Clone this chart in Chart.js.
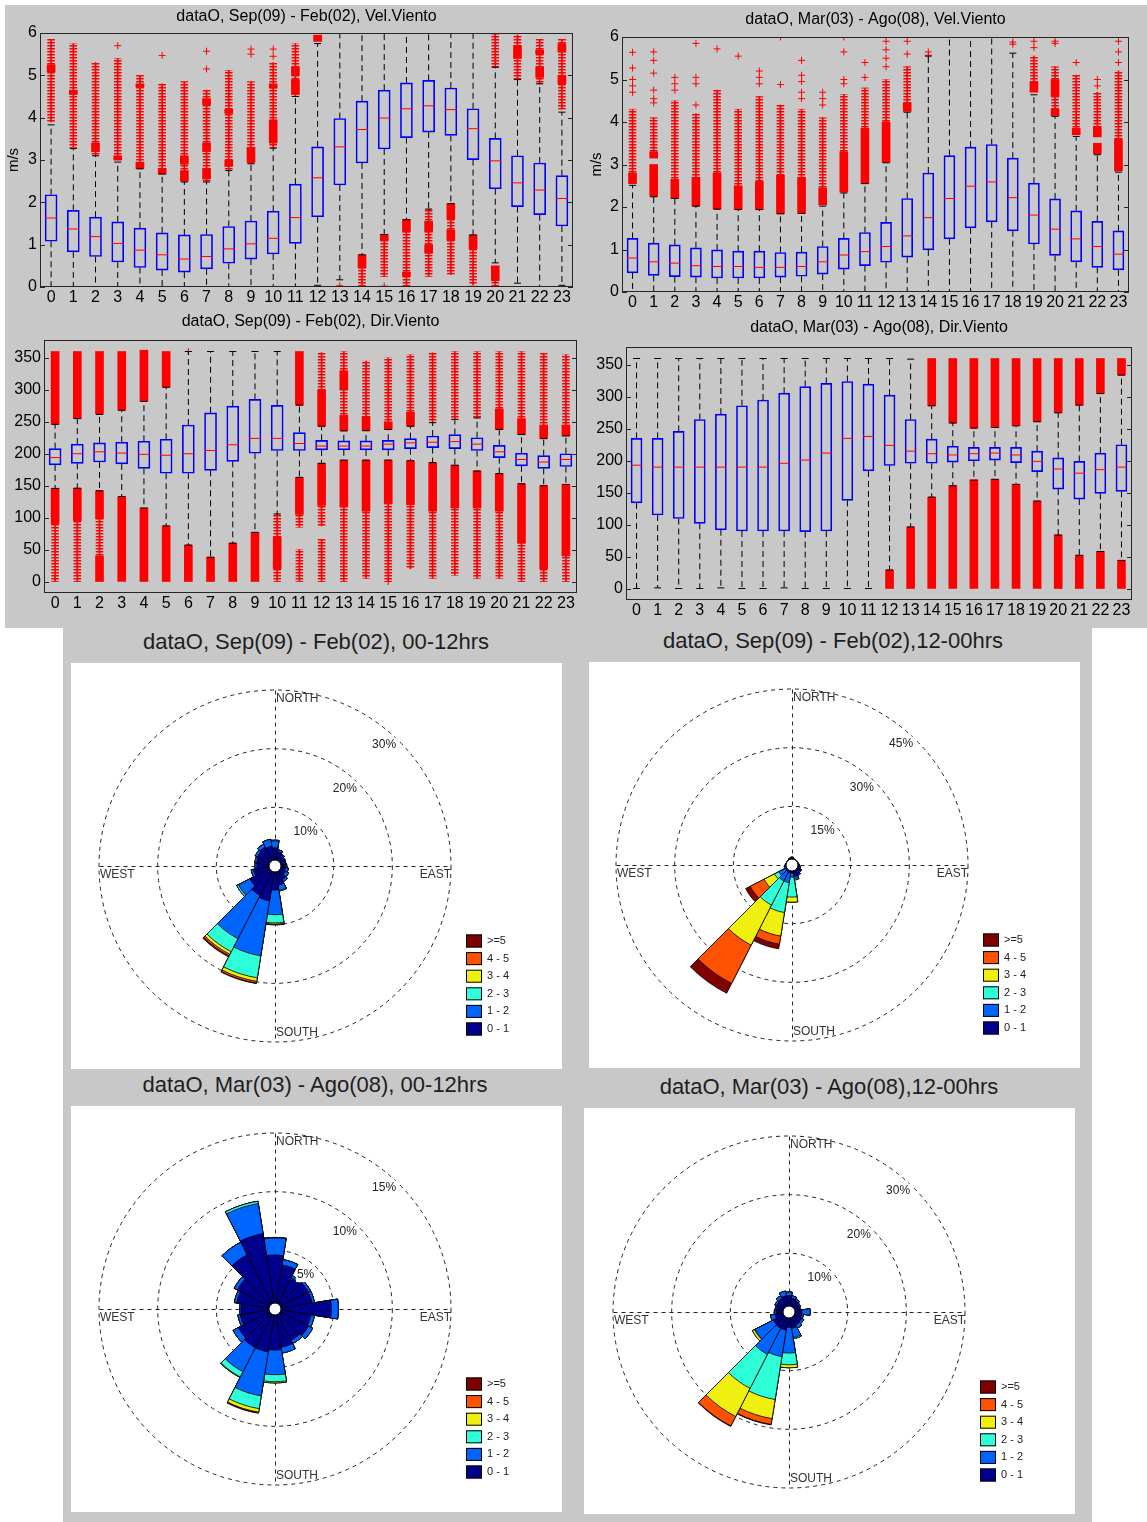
<!DOCTYPE html>
<html>
<head>
<meta charset="utf-8">
<script src="https://cdn.jsdelivr.net/npm/chart.js@4.4.0/dist/chart.umd.min.js"></script>
<style>
  body { margin: 0; background: #fff; width: 1147px; height: 1522px; position: relative; overflow: hidden;
         font-family: "Liberation Sans", Arial, sans-serif; }
  .bg { position: absolute; background: #c8c8c8; }
  .sheet { position: absolute; background: #fff; }
  canvas { position: absolute; }
  .ttl { position: absolute; font-size: 22px; line-height: 24px; color: #1e1e1e; white-space: nowrap; transform: translateX(-50%); }
</style>
</head>
<body>
<div class="bg" style="left:5px;top:5px;width:1142px;height:623px"></div>
<div class="bg" style="left:63px;top:628px;width:1029px;height:894px"></div>

<canvas id="velSep" width="585" height="305" style="left:0;top:0"></canvas>
<canvas id="velMar" width="562" height="310" style="left:580px;top:0"></canvas>
<canvas id="dirSep" width="590" height="306" style="left:0;top:305px"></canvas>
<canvas id="dirMar" width="565" height="308" style="left:580px;top:310px"></canvas>

<div class="ttl" style="left:316px;top:630px">dataO, Sep(09) - Feb(02), 00-12hrs</div>
<div class="ttl" style="left:833px;top:629px">dataO, Sep(09) - Feb(02),12-00hrs</div>
<div class="ttl" style="left:315px;top:1073px">dataO, Mar(03) - Ago(08), 00-12hrs</div>
<div class="ttl" style="left:829px;top:1075px">dataO, Mar(03) - Ago(08),12-00hrs</div>

<div class="sheet" style="left:71px;top:663px;width:491px;height:406px"></div>
<div class="sheet" style="left:589px;top:662px;width:491px;height:406px"></div>
<div class="sheet" style="left:71px;top:1106px;width:491px;height:406px"></div>
<div class="sheet" style="left:584px;top:1108px;width:491px;height:406px"></div>
<canvas id="roseSepAm" width="491" height="406" style="left:71px;top:663px"></canvas>
<canvas id="roseSepPm" width="491" height="406" style="left:589px;top:662px"></canvas>
<canvas id="roseMarAm" width="491" height="406" style="left:71px;top:1106px"></canvas>
<canvas id="roseMarPm" width="491" height="406" style="left:584px;top:1108px"></canvas>

<script>
// ---- hourly boxplots ----
const hours = [0,1,2,3,4,5,6,7,8,9,10,11,12,13,14,15,16,17,18,19,20,21,22,23];
const velTicks = [0,1,2,3,4,5,6];
const dirTicks = [0,50,100,150,200,250,300,350];

// wind speed, Sep-Feb
const velSepQ1  = [1.08,0.83,0.72,0.59,0.46,0.40,0.35,0.43,0.56,0.66,0.78,1.03,1.66,2.41,2.93,3.26,3.53,3.66,3.58,3.01,2.32,1.90,1.71,1.44];
const velSepMed = [1.63,1.37,1.19,1.03,0.87,0.76,0.66,0.72,0.90,1.02,1.15,1.64,2.58,3.31,3.72,3.99,4.21,4.28,4.19,3.74,2.98,2.46,2.29,2.09];
const velSepQ3  = [2.18,1.81,1.65,1.54,1.39,1.28,1.23,1.24,1.43,1.56,1.79,2.43,3.31,3.98,4.39,4.65,4.82,4.88,4.70,4.21,3.51,3.10,2.93,2.63];
const velSepHi  = [3.83,3.27,3.10,2.95,2.79,2.67,2.48,2.48,2.75,2.91,3.28,4.50,5.75,6.3,6.3,6.3,6.3,6.3,6.3,6.0,5.19,4.90,4.80,4.13];
const velSepLo  = [0,0,0,0,0,0,0,0,0,0,0,0,0.04,0.17,0.76,1.24,1.59,1.84,1.97,1.23,0.57,0.09,0,0.04];
const velSepDense = [[[5.08,5.25]],[[4.55,4.65]],[[3.2,3.4]],[[3.0,3.1]],[[2.8,2.95],[4.72,4.8]],[[2.67,2.8]],
  [[2.5,2.75],[2.9,3.1]],[[2.55,2.8],[3.2,3.4],[4.3,4.45]],[[2.85,3.0],[4.1,4.2]],[[2.95,3.3]],[[3.4,3.95],[4.7,4.8]],
  [[4.55,4.9],[5.0,5.2]],[[5.8,5.95]],[],[[0.45,0.76]],[[1.1,1.24]],[[1.3,1.6],[0.25,0.35]],[[1.3,1.55],[0.8,1.0]],
  [[1.6,1.97],[1.1,1.35]],[[0.9,1.23]],[[0.15,0.5]],[[5.4,5.7]],[[4.95,5.2],[5.5,5.6]],[[4.8,5.0],[5.55,5.75]]];
const velSepSparse = [[[3.9,5.85]],[[3.3,5.75]],[[3.1,5.3]],[[3.0,5.4]],[[2.8,5.0]],[[2.67,4.8]],[[2.5,4.85]],[[2.5,4.65]],
  [[2.75,5.12]],[[2.92,4.85]],[[3.3,5.3]],[[4.5,5.75]],[],[],[[0.0,0.45]],[[0.25,1.1]],[[0.0,1.3]],[[0.25,1.84]],
  [[0.3,1.6]],[[0.05,0.9]],[[5.2,6.0],[0.0,0.15]],[[4.9,5.95]],[[4.8,5.85]],[[4.2,5.85]]];
const velSepOut = [[],[],[],[5.7],[],[5.47],[],[5.15,5.57],[],[5.5,5.62],[5.45,5.62],[],[],[0.03],[],[0.02],[],[],[],[],[],[],[],[]];

// wind speed, Mar-Aug
const velMarQ1  = [0.45,0.39,0.36,0.35,0.33,0.33,0.33,0.35,0.37,0.42,0.54,0.62,0.70,0.82,0.99,1.25,1.51,1.65,1.44,1.13,0.86,0.71,0.58,0.52];
const velMarMed = [0.80,0.71,0.68,0.62,0.60,0.60,0.58,0.58,0.60,0.71,0.87,0.95,1.07,1.32,1.75,2.20,2.49,2.59,2.22,1.81,1.48,1.25,1.07,0.89];
const velMarQ3  = [1.26,1.15,1.11,1.04,0.99,0.96,0.96,0.93,0.94,1.07,1.26,1.40,1.64,2.20,2.80,3.21,3.41,3.47,3.15,2.56,2.19,1.91,1.66,1.44];
const velMarHi  = [2.51,2.24,2.20,2.02,1.95,1.94,1.94,1.84,1.85,2.02,2.33,2.55,3.04,4.23,5.55,6.3,6.3,6.3,5.62,4.64,4.13,3.66,3.23,2.82];
const velMarLo  = [0,0,0,0,0,0,0,0,0,0,0,0,0,0,0,0,0,0,0,0,0,0,0,0];
const velMarDense = [[[2.55,2.8]],[[2.25,3.0],[3.15,3.3]],[[2.2,2.65]],[[2.02,2.7]],[[1.95,2.8]],[[1.94,2.5]],[[1.94,2.6]],
  [[1.84,2.75]],[[1.85,2.7]],[[2.05,2.45]],[[2.35,3.3]],[[2.55,3.85]],[[3.05,4.0]],[[4.25,4.45]],[],[],[],[],[],
  [[4.7,4.95]],[[4.15,4.3],[4.6,5.0]],[[3.7,3.85]],[[3.25,3.5],[3.65,3.9]],[[2.85,3.6]]];
const velMarSparse = [[[2.8,4.3]],[[3.3,4.1]],[[2.65,4.5]],[[2.7,4.2]],[[2.8,4.75]],[[2.5,4.3]],[[2.6,4.6]],[[2.75,4.4]],
  [[2.7,4.3]],[[2.45,4.1]],[[3.3,4.65]],[[3.85,4.8]],[[4.0,5.0]],[[4.45,5.3]],[],[],[],[],[],[[4.95,5.55]],
  [[4.3,4.6],[5.0,5.3]],[[3.85,5.1]],[[3.9,4.7]],[[3.6,5.2]]];
const velMarOut = [[4.7,4.85,5.0,5.27,5.64],[4.45,4.55,4.75,5.15,5.45,5.65],[4.75,4.9,5.05],[4.4,4.9,5.05,5.85],[5.72],[5.55],
  [4.9,5.05,5.2],[4.88,6.0],[4.55,4.7,4.95,5.1,5.45],[4.4,4.55,4.7],[4.9,5.0,5.65,6.0],[5.05,5.4],[5.3,5.5,5.7,5.9],
  [5.6,5.9],[5.57,5.65],[],[],[],[5.83,5.88],[5.75,5.9],[5.85,5.9],[5.4],[4.85,5.0],[5.4,5.65,5.9]];

// wind direction, Sep-Feb
const dirSepQ1  = [182.5,185,187,184,177,169.5,169.5,174,188,200.7,205,205,206,206,206,206,208,209.6,208,205,194,181,177,180];
const dirSepMed = [194,200,203,201,199,197.6,200,205,214,224,224,216,212,212,212,215,217,218,219,215,203,191,187,191];
const dirSepQ3  = [208,215,217,218,219.5,222.6,245,264,274.6,285,275.6,233,221,220,220,221,223.6,227.8,230,225,213,200.7,197,200];
const dirSepHi  = [246,255,261.5,268,282,304,360,360,360,360,360,276,243,235.6,236,238,243,248.6,253.8,256,238,230,223.6,227.8];
const dirSepLo  = [145.6,146,142,133,115,87,57,38,60,77,105.6,163,185,190,190,190,189,186,182,173,169,153,150,152];
const dirSepDense = [[[246,360],[90,146]],[[255,360],[95,146]],[[262,360],[98,142],[0,40]],[[268,360],[0,133]],
  [[282,362],[0,115]],[[304,360],[0,87]],[[0,57]],[[0,38]],[[0,60]],[[0,77]],[[20,70]],[[276,360],[105,163]],
  [[243,300],[119,185]],[[236,260],[300,330],[117,190]],[[236,258],[110,190]],[[238,250],[122,190]],
  [[243,265],[120,189]],[[110,186]],[[115,182]],[[115,173]],[[238,270],[110,169]],[[230,255],[60,153]],
  [[224,245],[20,150]],[[228,245],[40,152]]];
const dirSepSparse = [[[0,90]],[[0,95]],[[40,98]],[],[],[],[],[],[],[],[[0,20],[70,106]],[[85,105],[0,50]],
  [[300,358],[87,119],[0,66]],[[260,300],[330,360],[0,117]],[[258,345],[5,110]],[[250,350],[0,122]],
  [[265,355],[20,120]],[[249,358],[5,110]],[[254,360],[10,115]],[[256,360],[5,115]],[[270,360],[5,110]],
  [[255,360],[0,60]],[[245,357],[0,20]],[[245,355],[0,40]]];
const dirSepOut = [[],[],[],[],[],[],[360],[],[],[],[],[],[],[],[],[0],[],[],[],[],[],[],[],[]];

// wind direction, Mar-Aug
const dirMarQ1  = [134,115,109.5,102,92,90,90,90,89,90,138,184,192.5,196,196,197.7,200,201,197,183,155.5,140,149,152];
const dirMarMed = [193,190,190,190,190,190,190,196,201,212,235,238,224,215,211,209,211,212,209,199,187,180.5,186,190];
const dirMarQ3  = [235,235,246,264.5,273,286,295,305.7,316,321,324,320,302.6,264.5,233.7,222.7,221,221,221,215,204.5,199,212,225];
const dirMarHi  = [360,360,360,360,360,360,360,360,360,360,360,360,360,359,286,259,251,252,254.6,261,275,287,305,334];
const dirMarLo  = [0,1,0,0,1,0,0,1,0,0,0,0,29,96.5,143,160.7,169.5,171,163,137,83.5,52,58,44];
const dirMarDense = [[],[],[],[],[],[],[],[],[],[],[],[],[[0,29]],[[0,96]],[[286,360],[0,143]],[[259,360],[0,161]],
  [[251,360],[0,170]],[[252,360],[0,171]],[[255,360],[0,163]],[[261,360],[0,137]],[[275,360],[0,84]],
  [[287,360],[0,52]],[[305,360],[0,58]],[[334,360],[0,44]]];
const dirMarSparse = hours.map(() => []);
const dirMarOut = hours.map(() => []);

// ---- wind roses ----
const sectors = [0,18,36,54,72,90,108,126,144,162,180,198,216,234,252,270,288,306,324,342];
const binLabels = ['0 - 1','1 - 2','2 - 3','3 - 4','4 - 5','>=5'];
const binColors = ['#00008c','#0064ff','#2effd8','#f0f010','#ff5200','#800000'];

// frequency (%) per speed bin, one value per sector
const sepAmCalm   = [3.1,2.5,2.1,1.9,1.8,1.8,1.8,2.0,2.6,3.3,4.1,6.0,5.6,4.8,3.7,3.1,3.2,3.4,3.6,3.4];
const sepAmLight  = [1.2,0.3,0.2,0.1,0.1,0.2,0.5,0.6,0.4,0.9,4.2,9.5,8.3,2.2,0.4,0.3,0.3,0.4,0.6,1.2];
const sepAmMid    = [0.1,0,0,0,0,0,0,0,0,0.1,1.4,3.8,2.5,0.3,0,0,0,0,0,0];
const sepAmFresh  = [0,0,0,0,0,0,0,0,0,0,0.2,0.6,0.5,0,0,0,0,0,0,0];
const sepAmStrong = [0,0,0,0,0,0,0,0,0,0,0.1,0.3,0.3,0,0,0,0,0,0,0];
const sepAmGale   = [0,0,0,0,0,0,0,0,0,0,0.05,0.1,0.2,0,0,0,0,0,0,0];

const sepPmCalm   = [1.8,1.6,1.5,1.5,1.6,1.8,2.0,2.4,2.8,3.0,2.0,2.0,2.0,1.8,1.5,1.5,1.5,1.5,1.6,1.7];
const sepPmLight  = [0.2,0,0,0,0,0,0.2,0.3,0.3,0.6,1.1,2.6,2.6,2.0,0.5,0.2,0,0,0,0.1];
const sepPmMid    = [0,0,0,0,0,0,0,0,0,0.3,5.1,7.7,6.9,1.2,0,0,0,0,0,0];
const sepPmFresh  = [0,0,0,0,0,0,0,0,0,0,1.3,6.1,11.5,3.0,0,0,0,0,0,0];
const sepPmStrong = [0,0,0,0,0,0,0,0,0,0,0,2.1,11.0,4.0,0,0,0,0,0,0];
const sepPmGale   = [0,0,0,0,0,0,0,0,0,0,0,1.2,2.8,1.3,0,0,0,0,0,0];

const marAmCalm   = [4.6,3.8,3.0,3.2,3.2,4.8,3.1,3.2,3.0,3.3,3.5,3.7,3.7,3.5,3.0,2.9,3.3,3.6,5.2,6.5];
const marAmLight  = [1.45,0.46,0.2,0.2,0.2,0.6,0.3,0.4,0.3,0.5,2.1,3.8,2.3,0.5,0.2,0.1,0.2,0.3,1.2,2.6];
const marAmMid    = [0.05,0,0,0,0,0,0,0,0,0,0.6,1.1,0.5,0,0,0,0,0,0,0.2];
const marAmFresh  = [0,0,0,0,0,0,0,0,0,0,0.1,0.3,0.05,0,0,0,0,0,0,0];
const marAmStrong = [0,0,0,0,0,0,0,0,0,0,0,0.05,0,0,0,0,0,0,0,0];
const marAmGale   = [0,0,0,0,0,0,0,0,0,0,0,0.05,0,0,0,0,0,0,0,0];

const marPmCalm   = [2.8,2.4,2.2,2.0,2.0,2.2,2.2,2.4,2.5,2.8,2.6,3.1,3.1,3.0,2.4,2.2,2.2,2.4,2.6,2.8];
const marPmLight  = [0.6,0.4,0.3,0.2,0,1.4,0.3,0.4,0.6,1.6,4.4,4.6,5.0,3.5,0.8,0.3,0.2,0.3,0.5,0.8];
const marPmMid    = [0,0,0,0,0,0,0,0,0,0.2,2.0,7.4,6.5,0.1,0,0,0,0,0,0];
const marPmFresh  = [0,0,0,0,0,0,0,0,0,0,0.5,3.3,5.4,0.4,0,0,0,0,0,0];
const marPmStrong = [0,0,0,0,0,0,0,0,0,0,0,1.0,1.8,0,0,0,0,0,0,0];
const marPmGale   = [0,0,0,0,0,0,0,0,0,0,0,0.1,0.1,0,0,0,0,0,0,0];

const FONT = '"Liberation Sans", Arial, sans-serif';
Chart.defaults.font.family = FONT;
Chart.defaults.color = '#000';

// horizontal stripes: stacked "+" markers read as a ladder
function ladder() {
  const c = document.createElement('canvas');
  c.width = 3; c.height = 3;
  const g = c.getContext('2d');
  g.fillStyle = '#ff0000'; g.fillRect(0, 0, 3, 1);
  g.fillStyle = 'rgba(255,0,0,0.5)'; g.fillRect(0, 1, 3, 1);
  return g.createPattern(c, 'repeat');
}

function flat(perHour) {
  const out = [];
  perHour.forEach((list, i) => list.forEach(v => out.push({x: hours[i], y: v})));
  return out;
}

// axes frame with inward ticks on both sides
const axesFrame = {
  id: 'axesFrame',
  afterDraw(chart) {
    const {ctx, chartArea: a, scales: {y}} = chart;
    ctx.save();
    ctx.strokeStyle = '#262626';
    ctx.lineWidth = 1;
    ctx.strokeRect(Math.round(a.left) + 0.5, Math.round(a.top) + 0.5, Math.round(a.width) - 1, Math.round(a.height) - 1);
    ctx.beginPath();
    y.ticks.forEach(t => {
      const py = Math.round(y.getPixelForValue(t.value)) + 0.5;
      ctx.moveTo(a.left, py); ctx.lineTo(a.left + 5, py);
      ctx.moveTo(a.right - 5, py); ctx.lineTo(a.right, py);
    });
    ctx.stroke();
    ctx.restore();
  }
};

function boxPanel(id, p) {
  const whisk = [], caps = [];
  hours.forEach((h, i) => {
    whisk.push({x: h, y: p.q3[i]}, {x: h, y: p.hi[i]}, {x: h, y: null});
    whisk.push({x: h, y: p.q1[i]}, {x: h, y: p.lo[i]}, {x: h, y: null});
    caps.push({x: h, y: p.hi[i]}, {x: h, y: p.lo[i]});
  });
  const sparse = flat(p.sparse);
  new Chart(document.getElementById(id), {
    type: 'bar',
    data: {
      datasets: [
        { type: 'scatter', data: hours.map((h, i) => ({x: h, y: p.med[i]})), pointStyle: 'line',
          pointRadius: p.box / 2, borderColor: '#ff0000', borderWidth: 1 },
        { type: 'bar', data: hours.map((h, i) => ({x: h, y: [p.q1[i], p.q3[i]]})), grouped: false,
          barThickness: p.box, backgroundColor: 'rgba(255,255,255,0)', borderColor: '#0000ff',
          borderWidth: 1, borderSkipped: false },
        { type: 'scatter', data: caps, pointStyle: 'line', pointRadius: 3.5, borderColor: '#000', borderWidth: 1 },
        { type: 'line', data: whisk, borderColor: '#000', borderWidth: 1, borderDash: [6, 4],
          pointRadius: 0, spanGaps: false, tension: 0 },
        { type: 'scatter', data: flat(p.out), pointStyle: 'cross', pointRadius: 3.5,
          borderColor: '#ff0000', borderWidth: 1 },
        { type: 'bar', data: sparse, grouped: false, barThickness: 1, backgroundColor: '#ff0000', borderWidth: 0 },
        { type: 'bar', data: sparse, grouped: false, barThickness: 7, backgroundColor: ladder(), borderWidth: 0 },
        { type: 'bar', data: flat(p.dense), grouped: false, barThickness: 8, backgroundColor: '#ff0000', borderWidth: 0 }
      ]
    },
    options: {
      responsive: false,
      animation: false,
      layout: { padding: { left: 0, right: p.padRight, top: 0, bottom: 0 } },
      plugins: {
        legend: { display: false },
        tooltip: { enabled: false },
        title: { display: true, text: p.title, fullSize: false, color: '#000',
                 font: { size: 16, weight: 'normal', lineHeight: 1.125 }, padding: p.titlePad }
      },
      scales: {
        x: {
          type: 'linear', min: -0.5, max: 23.5, offset: false,
          afterBuildTicks: s => { s.ticks = hours.map(v => ({value: v})); },
          afterFit: s => { s.height = 18; },
          grid: { display: false, drawTicks: false },
          border: { display: false },
          ticks: { font: { size: 16 }, color: '#000', padding: 1, maxRotation: 0, autoSkip: false }
        },
        y: {
          min: p.range[0], max: p.range[1],
          afterBuildTicks: s => { s.ticks = p.ticks.map(v => ({value: v})); },
          afterFit: s => { s.width = p.yWidth; },
          grid: { display: false, drawTicks: false },
          border: { display: false },
          ticks: { font: { size: 16 }, color: '#000', padding: 3 },
          title: { display: !!p.unit, text: p.unit, font: { size: 15 }, color: '#000', padding: { top: p.unitPad, bottom: 0 } }
        }
      }
    },
    plugins: [axesFrame]
  });
}

boxPanel('velSep', { title: 'dataO, Sep(09) - Feb(02), Vel.Viento', unit: 'm/s', unitPad: 5,
  q1: velSepQ1, med: velSepMed, q3: velSepQ3, hi: velSepHi, lo: velSepLo,
  dense: velSepDense, sparse: velSepSparse, out: velSepOut,
  range: [0, 6], ticks: velTicks, box: 12, yWidth: 40, padRight: 12, titlePad: { top: 8, bottom: 7 } });
boxPanel('velMar', { title: 'dataO, Mar(03) - Ago(08), Vel.Viento', unit: 'm/s', unitPad: 8,
  q1: velMarQ1, med: velMarMed, q3: velMarQ3, hi: velMarHi, lo: velMarLo,
  dense: velMarDense, sparse: velMarSparse, out: velMarOut,
  range: [0, 6], ticks: velTicks, box: 11, yWidth: 42, padRight: 13, titlePad: { top: 11, bottom: 8 } });
boxPanel('dirSep', { title: 'dataO, Sep(09) - Feb(02), Dir.Viento', unit: '',
  q1: dirSepQ1, med: dirSepMed, q3: dirSepQ3, hi: dirSepHi, lo: dirSepLo,
  dense: dirSepDense, sparse: dirSepSparse, out: dirSepOut,
  range: [-18, 378], ticks: dirTicks, box: 12, yWidth: 44, padRight: 13, titlePad: { top: 8, bottom: 9 } });
boxPanel('dirMar', { title: 'dataO, Mar(03) - Ago(08), Dir.Viento', unit: '',
  q1: dirMarQ1, med: dirMarMed, q3: dirMarQ3, hi: dirMarHi, lo: dirMarLo,
  dense: dirMarDense, sparse: dirMarSparse, out: dirMarOut,
  range: [-18, 378], ticks: dirTicks, box: 11, yWidth: 46, padRight: 13, titlePad: { top: 9, bottom: 10 } });

// compass cross, direction names, % labels, calm circle and speed legend
const roseDecor = {
  id: 'roseDecor',
  beforeDatasetsDraw(chart) {
    const s = chart.scales.r, ctx = chart.ctx;
    const cx = Math.round(s.xCenter) + 0.5, cy = Math.round(s.yCenter) + 0.5, R = s.drawingArea;
    ctx.save();
    ctx.strokeStyle = '#222';
    ctx.lineWidth = 1;
    ctx.setLineDash([4, 4]);
    ctx.beginPath();
    ctx.moveTo(cx - R, cy); ctx.lineTo(cx + R, cy);
    ctx.moveTo(cx, cy - R); ctx.lineTo(cx, cy + R);
    ctx.stroke();
    ctx.restore();
  },
  afterDatasetsDraw(chart, args, opts) {
    const s = chart.scales.r, ctx = chart.ctx;
    const cx = s.xCenter, cy = s.yCenter, R = s.drawingArea;
    ctx.save();
    // calm circle
    ctx.beginPath();
    ctx.arc(cx, cy, 6, 0, Math.PI * 2);
    ctx.fillStyle = '#fff'; ctx.fill();
    ctx.strokeStyle = '#000'; ctx.lineWidth = 1; ctx.stroke();

    ctx.font = '12px ' + FONT;
    ctx.fillStyle = '#333';
    ctx.textBaseline = 'middle';
    ctx.textAlign = 'left';
    ctx.fillText('NORTH', cx + 1, cy - R + 9);
    ctx.fillText('SOUTH', cx + 1, cy + R - 9);
    ctx.fillText('WEST', cx - R + 1, cy + 9);
    ctx.textAlign = 'right';
    ctx.fillText('EAST', cx + R, cy + 9);

    // percentage labels along the 42 degree ray
    const a = 42 * Math.PI / 180;
    ctx.textAlign = 'center';
    opts.ticks.forEach(t => {
      const r = s.getDistanceFromCenterForValue(t) - 13;
      const x = cx + r * Math.sin(a), y = cy - r * Math.cos(a);
      const label = t + '%';
      const w = ctx.measureText(label).width;
      ctx.fillStyle = '#fff';
      ctx.fillRect(x - w / 2 - 1, y - 7, w + 2, 14);
      ctx.fillStyle = '#222';
      ctx.fillText(label, x, y);
    });

    // speed legend
    const lx = cx + 191, ly = cy + 75;
    ctx.textAlign = 'left';
    ctx.font = '11px ' + FONT;
    for (let k = binLabels.length - 1, row = 0; k >= 0; k--, row++) {
      const y = ly + row * 17.6;
      ctx.fillStyle = binColors[k];
      ctx.fillRect(lx, y - 6.5, 16, 13);
      ctx.strokeStyle = '#000';
      ctx.strokeRect(lx + 0.5, y - 6, 15, 12);
      ctx.fillStyle = '#222';
      ctx.fillText(binLabels[k], lx + 21, y);
    }
    ctx.restore();
  }
};

function rose(id, bins, ticks, pad) {
  const layers = [];
  let run = sectors.map(() => 0);
  bins.forEach(b => {
    run = run.map((v, i) => v + b[i]);
    layers.push(run.slice());
  });
  new Chart(document.getElementById(id), {
    type: 'polarArea',
    data: {
      labels: sectors.map(String),
      datasets: layers.map((d, k) => ({
        data: d, backgroundColor: binColors[k], borderColor: '#000', borderWidth: 0.8
      }))
    },
    options: {
      responsive: false,
      animation: false,
      layout: { padding: pad },
      plugins: { legend: { display: false }, tooltip: { enabled: false }, roseDecor: { ticks } },
      scales: {
        r: {
          min: 0, max: ticks[ticks.length - 1], startAngle: -9,
          ticks: { display: false, stepSize: ticks[0] },
          grid: { circular: true, color: '#222', lineWidth: 1 },
          border: { dash: [4, 4] },
          angleLines: { display: false },
          pointLabels: { display: false }
        }
      }
    },
    plugins: [roseDecor]
  });
}

rose('roseSepAm', [sepAmCalm, sepAmLight, sepAmMid, sepAmFresh, sepAmStrong, sepAmGale], [10, 20, 30],
     { left: 28, right: 111, top: 27, bottom: 27 });
rose('roseSepPm', [sepPmCalm, sepPmLight, sepPmMid, sepPmFresh, sepPmStrong, sepPmGale], [15, 30, 45],
     { left: 27, right: 111, top: 27, bottom: 27 });
rose('roseMarAm', [marAmCalm, marAmLight, marAmMid, marAmFresh, marAmStrong, marAmGale], [5, 10, 15],
     { left: 28, right: 111, top: 27, bottom: 27 });
rose('roseMarPm', [marPmCalm, marPmLight, marPmMid, marPmFresh, marPmStrong, marPmGale], [10, 20, 30],
     { left: 29, right: 110, top: 28, bottom: 26 });
</script>
</body>
</html>
